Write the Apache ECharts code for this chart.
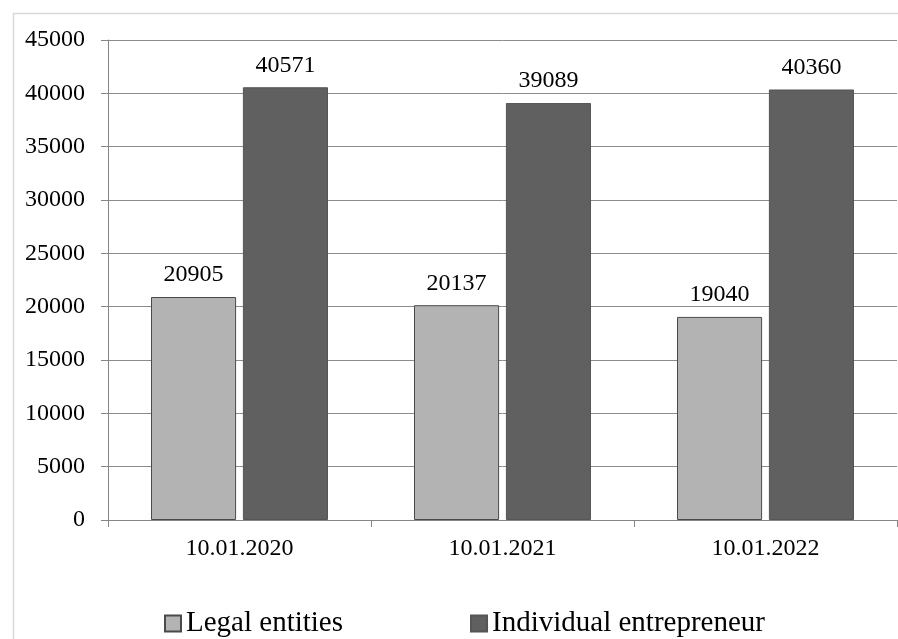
<!DOCTYPE html>
<html>
<head>
<meta charset="utf-8">
<script src="https://cdn.jsdelivr.net/npm/echarts@6/dist/echarts.min.js"></script>
<style>
  html, body { margin: 0; padding: 0; background: #fff; }
  #chart { width: 898px; height: 639px; }
</style>
</head>
<body>
<div id="chart"></div>
<script>
// Registered businesses by date
const categories = ['10.01.2020', '10.01.2021', '10.01.2022'];
const legalEntities = [20905, 20137, 19040];
const individualEntrepreneurs = [40571, 39089, 40360];
const seriesNames = ['Legal entities', 'Individual entrepreneur'];

const FONT = '"Liberation Serif", "Times New Roman", serif';

const chart = echarts.init(document.getElementById('chart'), null, { renderer: 'canvas' });

const labelStyle = {
  show: true,
  position: 'top',
  distance: 10,
  fontFamily: FONT,
  fontSize: 24,
  color: '#000'
};

chart.setOption({
  animation: false,
  backgroundColor: '#fff',
  graphic: [{
    type: 'rect',
    shape: { x: 13.5, y: 13.5, width: 900, height: 660 },
    style: { fill: 'none', stroke: '#d9d9d9', lineWidth: 1.5 },
    silent: true,
    z: -1
  }],
  grid: { left: 108, right: 1, top: 40, bottom: 119, containLabel: false },
  legend: {
    left: 159,
    top: 604,
    icon: 'rect',
    itemWidth: 16,
    itemHeight: 16,
    itemGap: 127,
    textStyle: { fontFamily: FONT, fontSize: 29, color: '#000' },
    data: seriesNames
  },
  xAxis: {
    type: 'category',
    data: categories,
    axisLine: { lineStyle: { color: '#868686', width: 1 } },
    axisTick: { show: true, length: 7, alignWithLabel: false, lineStyle: { color: '#868686' } },
    axisLabel: { fontFamily: FONT, fontSize: 24, color: '#000', margin: 17 },
    splitLine: { show: false }
  },
  yAxis: {
    type: 'value',
    min: 0,
    max: 45000,
    interval: 5000,
    axisLine: { show: true, lineStyle: { color: '#868686', width: 1 } },
    axisTick: { show: true, length: 7, lineStyle: { color: '#868686' } },
    axisLabel: {
      fontFamily: FONT, fontSize: 24, color: '#000', margin: 23,
      formatter: function (v) { return String(v); }
    },
    splitLine: { show: true, lineStyle: { color: '#8c8c8c', width: 1 } }
  },
  series: [
    {
      name: seriesNames[0],
      type: 'bar',
      data: legalEntities,
      barGap: '8%',
      barCategoryGap: '32.7%',
      itemStyle: { color: '#b3b3b3', borderColor: '#4a4a4a', borderWidth: 1 },
      label: labelStyle
    },
    {
      name: seriesNames[1],
      type: 'bar',
      data: individualEntrepreneurs,
      barGap: '8%',
      barCategoryGap: '32.7%',
      itemStyle: { color: '#606060', borderColor: '#555555', borderWidth: 1 },
      label: labelStyle
    }
  ]
});
</script>
</body>
</html>
